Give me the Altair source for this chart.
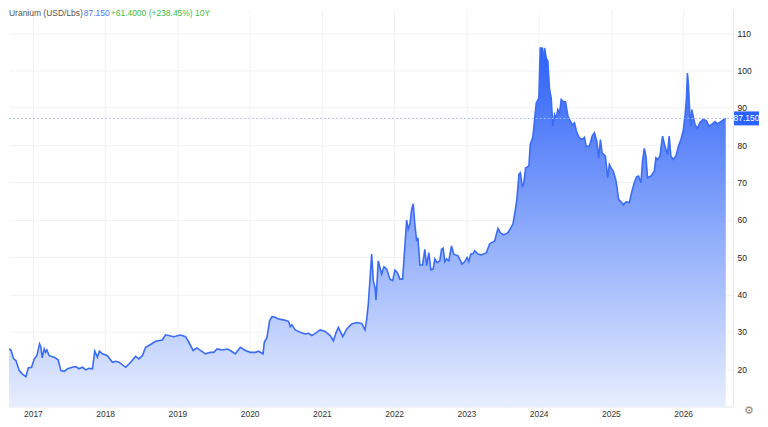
import altair as alt
import pandas as pd

# decimal year of each observation, and price (USD/lb)
years = [2016.613, 2016.696, 2016.734, 2016.765, 2016.811, 2016.858, 2016.903, 2016.935, 2016.982,
         2017.018, 2017.055, 2017.092, 2017.110, 2017.128, 2017.156, 2017.175, 2017.193, 2017.225,
         2017.294, 2017.349, 2017.387, 2017.432, 2017.479, 2017.548, 2017.594, 2017.639, 2017.686,
         2017.732, 2017.777, 2017.824, 2017.856, 2017.893, 2017.921, 2017.962,
         2018.031, 2018.100, 2018.146, 2018.191, 2018.284, 2018.353, 2018.422, 2018.467, 2018.514,
         2018.560, 2018.629, 2018.698, 2018.790, 2018.836, 2018.951,
         2019.043, 2019.112, 2019.158, 2019.218, 2019.271, 2019.319, 2019.388, 2019.457, 2019.503,
         2019.550, 2019.619, 2019.688, 2019.733, 2019.802, 2019.871, 2019.940,
         2020.009, 2020.078, 2020.124, 2020.185, 2020.203, 2020.240, 2020.276, 2020.309, 2020.354,
         2020.400, 2020.469, 2020.538, 2020.562, 2020.585, 2020.631, 2020.700, 2020.769, 2020.814,
         2020.861, 2020.907, 2020.976,
         2021.045, 2021.114, 2021.159, 2021.197, 2021.228, 2021.261, 2021.289, 2021.344, 2021.413,
         2021.482, 2021.551, 2021.597, 2021.620, 2021.642, 2021.689, 2021.711, 2021.735, 2021.749,
         2021.780, 2021.827, 2021.859, 2021.896, 2021.942, 2021.979,
         2022.011, 2022.043, 2022.080, 2022.117, 2022.173, 2022.195, 2022.218, 2022.242, 2022.264,
         2022.287, 2022.311, 2022.329, 2022.356, 2022.393, 2022.425, 2022.449, 2022.480, 2022.508,
         2022.540, 2022.563, 2022.595, 2022.632, 2022.656, 2022.678, 2022.701, 2022.725, 2022.756,
         2022.794, 2022.825, 2022.885, 2022.940, 2022.977,
         2023.009, 2023.032, 2023.060, 2023.092, 2023.115, 2023.161, 2023.208, 2023.277, 2023.322,
         2023.391, 2023.437, 2023.470, 2023.516, 2023.575, 2023.622, 2023.644, 2023.668, 2023.700,
         2023.727, 2023.746, 2023.774, 2023.792, 2023.819, 2023.865, 2023.884, 2023.920, 2023.967,
         2024.003, 2024.022, 2024.050, 2024.064, 2024.082, 2024.105, 2024.127, 2024.151, 2024.174,
         2024.196, 2024.220, 2024.243, 2024.265, 2024.289, 2024.312, 2024.344, 2024.372, 2024.404,
         2024.437, 2024.464, 2024.496, 2024.528, 2024.565, 2024.602, 2024.634, 2024.657, 2024.703,
         2024.740, 2024.772, 2024.804, 2024.831, 2024.855, 2024.878, 2024.924, 2024.956, 2024.979,
         2025.002, 2025.034, 2025.071, 2025.107, 2025.140, 2025.172, 2025.209, 2025.255, 2025.292,
         2025.324, 2025.356, 2025.383, 2025.416, 2025.438, 2025.462, 2025.485, 2025.507, 2025.554,
         2025.600, 2025.623, 2025.646, 2025.679, 2025.715, 2025.748, 2025.784, 2025.807, 2025.830,
         2025.862, 2025.899, 2025.935, 2025.969,
         2026.000, 2026.028, 2026.046, 2026.059, 2026.073, 2026.093, 2026.107, 2026.120, 2026.138,
         2026.166, 2026.198, 2026.231, 2026.277, 2026.322, 2026.359, 2026.405, 2026.442, 2026.474,
         2026.521, 2026.566, 2026.590]

prices = [25.85, 25.15, 22.75, 22.3, 19.6, 18.6, 18.0, 20.3, 20.5,
          22.75, 23.6, 26.75, 25.85, 23.0, 25.4, 24.5, 25.15, 23.6,
          23.2, 22.5, 19.6, 19.4, 20.1, 20.5, 20.7, 20.1, 20.5,
          19.8, 20.2, 20.1, 24.8, 23.2, 24.8, 24.1,
          23.6, 21.85, 22.1, 21.85, 20.5, 21.85, 23.4, 22.75, 23.6,
          25.85, 26.6, 27.45, 27.8, 29.2, 28.7,
          29.15, 28.7, 27.2, 25.0, 25.7, 25.0, 24.1, 24.5, 24.5,
          25.4, 25.15, 25.4, 25.0, 24.1, 25.85, 25.0,
          24.5, 24.5, 24.8, 24.1, 27.2, 28.5, 33.0, 34.05, 33.9,
          33.4, 33.2, 32.8, 31.4, 31.9, 30.5, 29.85, 29.4, 29.6,
          29.0, 29.6, 30.5,
          30.1, 29.0, 27.6, 29.85, 31.2, 29.85, 28.7, 30.75, 32.1,
          32.5, 32.25, 30.5, 33.3, 37.4, 50.8, 43.7, 41.9, 38.5,
          49.0, 45.45, 47.4, 46.8, 44.1, 43.7,
          46.5, 45.9, 44.1, 44.1, 59.9, 57.5, 58.8, 62.8, 64.3,
          58.8, 54.35, 55.2, 47.9, 47.9, 52.1, 47.7, 51.2, 46.6,
          46.8, 49.5, 48.55, 49.0, 52.1, 52.4, 48.8, 49.5, 49.0,
          53.0, 50.8, 50.35, 48.1, 48.8,
          49.9, 48.8, 50.8, 50.95, 51.7, 50.8, 50.6, 51.2, 53.6,
          54.35, 57.7, 56.55, 55.95, 56.55, 58.1, 58.8, 61.5, 65.7,
          72.2, 72.6, 69.0, 69.5, 73.9, 74.4, 80.2, 82.2, 91.3,
          92.6, 106.0, 106.0, 102.5, 106.0, 103.3, 102.5, 94.9, 92.6,
          85.1, 88.2, 87.3, 89.5, 88.6, 92.2, 91.6, 91.6, 87.8,
          86.5, 85.4, 86.0, 83.4, 81.9, 81.5, 82.1, 79.7, 79.7,
          82.4, 83.3, 81.1, 76.6, 81.5, 77.9, 77.05, 71.25, 74.8,
          73.9, 73.0, 70.4, 65.5, 64.8, 64.0, 64.8, 64.6, 67.7,
          69.9, 71.5, 71.7, 69.9, 75.7, 79.1, 77.05, 71.25, 71.7,
          73.0, 76.6, 76.15, 77.05, 82.4, 79.7, 77.5, 82.4, 77.05,
          76.15, 77.05, 79.7, 81.5,
          83.7, 88.2, 92.6, 99.3, 96.2, 88.2, 85.1, 89.5, 87.8,
          85.4, 84.5, 86.0, 86.9, 86.5, 85.1, 85.7, 86.3, 85.7,
          86.3, 86.9, 87.15]

year_ticks = [2017, 2018, 2019, 2020, 2021, 2022, 2023, 2024, 2025, 2026]
price_ticks = [20, 30, 40, 50, 60, 70, 80, 90, 100, 110]
last_price = 87.15
title_name = "Uranium (USD/Lbs)"
title_last = "87.150"
title_change = "+61.4000 (+238.45%) 10Y"

df = pd.DataFrame({"year": years, "price": prices})

W, H = 726, 398
FONT = "Arial, Liberation Sans, sans-serif"
FS = 8.5
BLUE = "#2962ff"
YDOM = [10, 116.3]

x = alt.X("year:Q",
          scale=alt.Scale(domain=[2016.669, 2026.691], nice=False, zero=False),
          axis=alt.Axis(values=year_ticks, format="d", title=None, grid=True,
                        gridColor="#f0f2f5", ticks=False, domainColor="#e3e6ec",
                        labelPadding=3, labelFontSize=FS, labelColor="#333333",
                        labelFont=FONT))
y = alt.Y("price:Q",
          scale=alt.Scale(domain=YDOM, nice=False, zero=False),
          axis=alt.Axis(orient="right", values=price_ticks, title=None, grid=True,
                        gridColor="#f0f2f5", ticks=False, domainColor="#e3e6ec",
                        labelPadding=4, labelFontSize=FS, labelColor="#222222",
                        labelFont=FONT))

base = alt.Chart(df)

area = base.mark_area(
    clip=True,
    color=alt.Gradient(
        gradient="linear",
        stops=[alt.GradientStop(color="#2c60f7", offset=0),
               alt.GradientStop(color="#8aa9fb", offset=0.45),
               alt.GradientStop(color="#fbfcff", offset=1)],
        x1=1, x2=1, y1=0, y2=1),
).encode(x=x, y=y)

line = base.mark_line(clip=True, color="#3a6cf6", strokeWidth=1.6).encode(x=x, y=y)

last_df = pd.DataFrame({"price": [last_price], "label": [title_last]})
yl = alt.Y("price:Q", scale=alt.Scale(domain=YDOM, nice=False, zero=False))
rule = alt.Chart(last_df).mark_rule(color="#a7bcfb", strokeDash=[2, 2], strokeWidth=1).encode(
    y=yl, x=alt.value(0), x2=alt.value(W))
tag = alt.Chart(last_df).mark_rect(color=BLUE, height=14, clip=False).encode(
    y=yl, x=alt.value(W + 1), x2=alt.value(W + 26))
tag_text = alt.Chart(last_df).mark_text(color="white", fontSize=FS, font=FONT, align="center",
                                        baseline="middle").encode(
    y=yl, x=alt.value(W + 13.5), text="label:N")

titles = pd.DataFrame({"t": [title_name]})
t1 = alt.Chart(titles).mark_text(color="#555555", fontSize=FS, font=FONT, align="left",
                                 baseline="middle").encode(
    x=alt.value(0), y=alt.value(3), text=alt.value(title_name))
t2 = alt.Chart(titles).mark_text(color="#4a7dff", fontSize=FS, font=FONT, align="left",
                                 baseline="middle").encode(
    x=alt.value(75), y=alt.value(3), text=alt.value(title_last))
t3 = alt.Chart(titles).mark_text(color="#3dbd4a", fontSize=FS, font=FONT, align="left",
                                 baseline="middle").encode(
    x=alt.value(102), y=alt.value(3), text=alt.value(title_change))
gear = alt.Chart(titles).mark_text(color="#8a8a8a", fontSize=11, font="DejaVu Sans",
                                   align="center", baseline="middle").encode(
    x=alt.value(W + 16), y=alt.value(H + 5), text=alt.value("\u2699"))

chart = alt.layer(area, line, rule, tag, tag_text, t1, t2, t3, gear).properties(
    width=W, height=H, padding=0, background="white"
).configure_view(stroke=None)

chart.save("out.html", embed_options={"renderer": "svg", "actions": False})
